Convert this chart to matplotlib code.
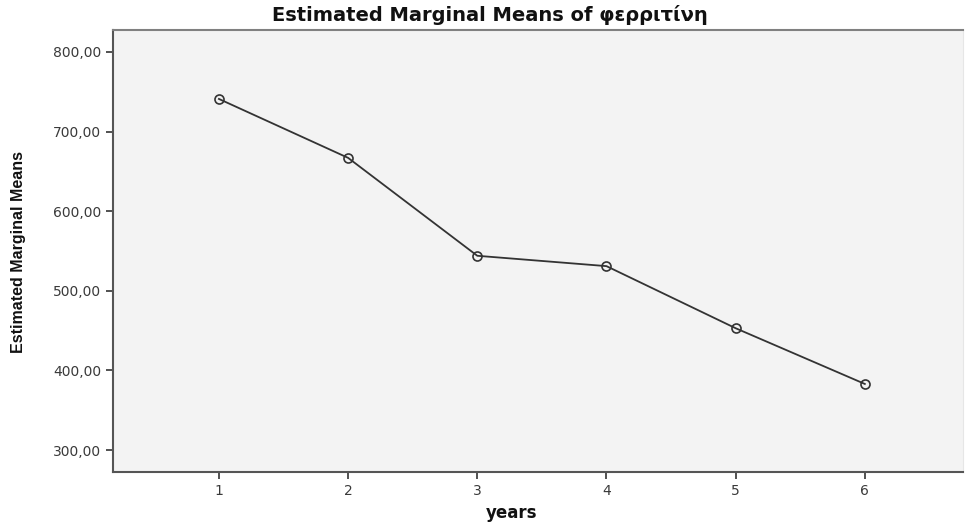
import matplotlib
matplotlib.use("Agg")
import matplotlib.pyplot as plt
from matplotlib import font_manager

years = [1, 2, 3, 4, 5, 6]
means = [741, 667, 544, 531, 453, 383]
yticks = [300, 400, 500, 600, 700, 800]
ytick_labels = ["300,00", "400,00", "500,00", "600,00", "700,00", "800,00"]

names = {f.name for f in font_manager.fontManager.ttflist}
narrow = "Liberation Sans Narrow" if "Liberation Sans Narrow" in names else "Liberation Sans"

fig = plt.figure(figsize=(9.67, 5.24), dpi=100)
ax = fig.add_axes([113/967, 52/524, (963-113)/967, (472-30)/524])
ax.set_facecolor("#f3f3f3")

ax.plot(years, means, color="#333333", lw=1.3, marker="o", ms=6.5,
        mfc="none", mec="#333333", mew=1.2)

ax.set_xlim(0.18, 6.76)
ax.set_ylim(272.4, 827.6)
ax.set_xticks(years)
ax.set_xticklabels([str(y) for y in years])
ax.set_yticks(yticks)
ax.set_yticklabels(ytick_labels)

for s in ["left", "bottom"]:
    ax.spines[s].set_color("#555555")
    ax.spines[s].set_linewidth(1.5)
ax.spines["top"].set_color("#808080")
ax.spines["top"].set_linewidth(1.5)
ax.spines["right"].set_color("#e6e6e6")
ax.spines["right"].set_linewidth(0.8)

ax.tick_params(axis="both", colors="#333333", labelcolor="#3a3a3a",
               labelsize=10, length=5, width=1.2)
for lab in ax.get_xticklabels() + ax.get_yticklabels():
    lab.set_family("DejaVu Sans")

fig.text(0.5066, 0.972, "Estimated Marginal Means of φερριτίνη", ha="center", va="center",
         fontsize=14, fontweight="bold", family="DejaVu Sans", color="#111111")
fig.text(512/967, 1 - 513/524, "years", ha="center", va="center",
         fontsize=12, fontweight="bold", family="DejaVu Sans", color="#111111")
fig.text(19/967, 1 - 252/524, "Estimated Marginal Means", ha="center", va="center",
         rotation=90, fontsize=11.5, fontweight="bold", family=narrow, color="#111111")

fig.savefig("out.png", dpi=100)
